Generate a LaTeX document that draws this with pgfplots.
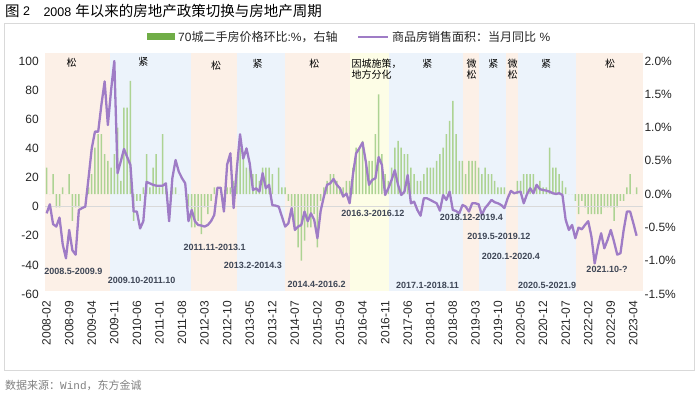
\documentclass[border=0pt]{standalone}
\usepackage{pgfplots}
\pgfplotsset{compat=1.18}
\usepackage{pgfplotstable}
\usepackage{fontspec}
\setmainfont{Liberation Sans}
\newfontfamily\cjk{Noto Sans CJK SC}
\newfontfamily\mono{Liberation Mono}
\definecolor{peach}{HTML}{FCF0E7}
\definecolor{lblue}{HTML}{ECF3FB}
\definecolor{lyellow}{HTML}{FDFDE6}
\definecolor{barg}{HTML}{ADD393}
\definecolor{legg}{HTML}{70AD47}
\definecolor{purp}{HTML}{9F7CC6}
\definecolor{lblt}{HTML}{3E4656}
\definecolor{tickc}{HTML}{262626}
\definecolor{frame}{HTML}{D9D9D9}

\pgfplotstableread{
i b s
0 0.4 -4.6
1 0.0 1.6
2 0.3 -12
3 -0.2 -13.7
4 -0.2 -7.5
5 0.1 -26
6 0.0 -35.5
7 0.3 -16
8 -0.4 -30
9 -0.2 -33
10 -0.2 -2.3
11 0.0 -1
12 0.0 0
13 0.1 19.5
14 0.3 40
15 0.7 51.5
16 0.9 51.5
17 0.9 70
18 0.6 86
19 0.5 56
20 0.4 80
21 0.6 100
22 1.0 23
23 0.2 31
24 1.3 39.6
25 1.3 34
26 1.7 28.6
27 -0.4 -3.4
28 -0.1 -3.4
29 -0.1 -15
30 0.1 -10
31 0.6 17
32 0.1 16
33 0.4 15
34 0.6 14.4
35 0.1 14.4
36 0.9 14.4
37 0.1 16
38 0.0 -10
39 0.1 19.5
40 0.1 32
41 0.0 24
42 0.0 19.5
43 0.0 16
44 -0.2 -10
45 -0.5 -2.3
46 -0.5 -10
47 -0.4 -12.6
48 -0.6 -13
49 -0.2 -13.7
50 -0.3 -12.6
51 -0.1 -10
52 0.1 -5.7
53 0.0 13
54 0.0 13
55 0.0 -3.4
56 0.1 29
57 0.1 36.6
58 0.2 -1
59 0.4 26
60 0.7 49.7
61 0.6 33
62 0.4 40
63 0.4 29.7
64 0.3 11.4
65 0.3 12.6
66 0.2 10.3
67 0.4 23
68 0.4 12.6
69 0.4 15
70 0.3 1
71 0.0 0.7
72 0.4 0
73 0.1 -6.9
74 0.1 -13.7
75 -0.1 -11.4
76 -0.2 -1
77 -0.5 -16
78 -0.8 -13.7
79 -1.0 -12.6
80 -0.7 -3.4
81 -0.5 -10
82 -0.5 -4.6
83 -0.3 -9
84 -0.8 -21.7
85 -0.1 -3
86 0.1 6.9
87 0.2 15
88 0.3 16
89 0.3 19
90 0.2 15
91 0.1 12.6
92 0.1 6.9
93 0.2 9
94 0.2 2.3
95 0.4 21.7
96 0.7 36.6
97 0.7 40
98 0.8 44
99 0.5 31
100 0.5 15
101 0.5 18.3
102 0.9 19.5
103 1.5 34
104 0.6 28.6
105 0.3 8
106 0.2 12.6
107 0.4 18.3
108 0.7 25
109 0.8 15
110 0.7 8
111 0.6 10.3
112 0.6 21.7
113 0.4 2.3
114 0.3 3.4
115 0.2 -2.3
116 0.2 -6.2
117 0.3 5.7
118 0.4 5.7
119 0.4 4.6
120 0.4 3.4
121 0.5 2.3
122 0.6 -2.8
123 0.7 8
124 0.9 4.6
125 1.1 10.3
126 1.4 -2.3
127 0.9 -3
128 0.5 -4.6
129 0.5 1.1
130 0.3 0
131 0.5 -3.4
132 0.5 2.3
133 0.5 2.3
134 0.4 1.6
135 0.3 -5.7
136 0.4 -1
137 0.3 1.6
138 0.3 4.6
139 0.2 3
140 0.1 2.3
141 0.1 1.1
142 0.1 -1
143 0.0 5.7
144 0.0 10.8
145 0.0 9.2
146 0.2 9.8
147 0.2 10.3
148 0.3 2.3
149 0.3 8.5
150 0.3 12.6
151 0.3 9.2
152 0.1 15
153 0.2 12
154 0.1 11.4
155 0.1 11
156 0.7 10.3
157 0.4 9.2
158 0.4 8.7
159 0.3 9.2
160 0.2 8
161 0.1 -9
162 0.0 -16
163 0.0 -12.6
164 -0.1 -21.7
165 -0.3 -14.4
166 -0.1 -15.6
167 -0.2 -12.6
168 -0.3 -10
169 -0.3 -20.6
170 -0.3 -39
171 -0.3 -27.5
172 -0.3 -18.3
173 -0.2 -28.6
174 -0.2 -22.9
175 -0.2 -16
176 -0.4 -24
177 -0.2 -33
178 -0.1 -32
179 -0.1 -16
180 0.1 -3.4
181 0.3 -3.4
182 0.0 -11.4
183 0.1 -20
}\data

\begin{document}
\begin{tikzpicture}[x=1pt,y=-1pt]
\path[use as bounding box] (0,0) rectangle (700,395);
\draw[frame, line width=0.8pt] (4,23.5) rectangle (694,370);

% right axis: bands and bars
\begin{axis}[
  at={(45pt,-294pt)}, anchor=south west, scale only axis,
  width=597.7pt, height=233pt,
  xmin=-0.5, xmax=184.9, ymin=-1.5, ymax=2.0,
  clip=false,
  axis x line*=bottom, axis y line*=right,
  axis line style={draw=none}, major tick length=0pt,
  /pgf/number format/assume math mode=true,
  xtick={0,7,...,182},
  xticklabels={2008-02,2008-09,2009-04,2009-11,2010-06,2011-01,2011-08,2012-03,2012-10,2013-05,2013-12,2014-07,2015-02,2015-09,2016-04,2016-11,2017-06,2018-01,2018-08,2019-03,2019-10,2020-05,2020-12,2021-07,2022-02,2022-09,2023-04},
  xticklabel style={rotate=90, anchor=east, font=\fontsize{12}{12}\selectfont, text=tickc},
  xticklabel shift=3.5pt,
  ytick={-1.5,-1,-0.5,0,0.5,1,1.5,2},
  yticklabel={\pgfmathprintnumber[fixed,fixed zerofill,precision=1]{\tick}\%},
  yticklabel style={anchor=west, font=\fontsize{12}{12}\selectfont, text=tickc},
  yticklabel shift=-1.7pt,
]
\addplot[draw=none, fill=peach] coordinates {(-0.5,-1.455)(-0.5,2.12)(19.6,2.12)(19.6,-1.455)};
\addplot[draw=none, fill=lblue] coordinates {(19.6,-1.455)(19.6,2.12)(44.9,2.12)(44.9,-1.455)};
\addplot[draw=none, fill=peach] coordinates {(44.9,-1.455)(44.9,2.12)(59.2,2.12)(59.2,-1.455)};
\addplot[draw=none, fill=lblue] coordinates {(59.2,-1.455)(59.2,2.12)(73.8,2.12)(73.8,-1.455)};
\addplot[draw=none, fill=peach] coordinates {(73.8,-1.455)(73.8,2.12)(94,2.12)(94,-1.455)};
\addplot[draw=none, fill=lyellow] coordinates {(94,-1.455)(94,2.12)(106.2,2.12)(106.2,-1.455)};
\addplot[draw=none, fill=lblue] coordinates {(106.2,-1.455)(106.2,2.12)(129.2,2.12)(129.2,-1.455)};
\addplot[draw=none, fill=peach] coordinates {(129.2,-1.455)(129.2,2.12)(134.2,2.12)(134.2,-1.455)};
\addplot[draw=none, fill=lblue] coordinates {(134.2,-1.455)(134.2,2.12)(142.4,2.12)(142.4,-1.455)};
\addplot[draw=none, fill=peach] coordinates {(142.4,-1.455)(142.4,2.12)(146.3,2.12)(146.3,-1.455)};
\addplot[draw=none, fill=lblue] coordinates {(146.3,-1.455)(146.3,2.12)(164.2,2.12)(164.2,-1.455)};
\addplot[draw=none, fill=peach] coordinates {(164.2,-1.455)(164.2,2.12)(184.9,2.12)(184.9,-1.455)};
\addplot[ybar, bar width=1.5pt, fill=barg, draw=none] table[x=i,y=b] {\data};
\end{axis}

% left axis: line
\begin{axis}[
  at={(45pt,-294pt)}, anchor=south west, scale only axis,
  width=597.7pt, height=233pt,
  xmin=-0.5, xmax=184.9, ymin=-60, ymax=100,
  axis x line*=bottom, axis y line*=left,
  axis line style={draw=none}, major tick length=0pt,
  /pgf/number format/assume math mode=true,
  xtick=\empty,
  ytick={-60,-40,-20,0,20,40,60,80,100},
  yticklabel style={anchor=east, font=\fontsize{12}{12}\selectfont, text=tickc},
  yticklabel shift=2.7pt,
]
\addplot[frame, line width=0.8pt] coordinates {(-0.5,0)(184.9,0)};
\addplot[purp, line width=2.3pt, line join=round] table[x=i,y=s] {\data};
\end{axis}

% title
\node[anchor=west, inner sep=0, font=\fontsize{14.5}{15}\selectfont] at (5,11.5) {\cjk 图};
\node[anchor=west, inner sep=0, font=\fontsize{12.5}{13}\selectfont] at (23,11.5) {2};
\node[anchor=west, inner sep=0, font=\fontsize{14.5}{15}\selectfont] at (43.3,11.5) {{\fontsize{12.5}{13}\selectfont 2008} {\cjk 年以来的房地产政策切换与房地产周期}};

% legend
\fill[legg] (146.7,33.5) rectangle (175,40.5);
\node[anchor=west, inner sep=0, font=\fontsize{12}{12}\selectfont, text=tickc] at (178,37) {70{\cjk 城二手房价格环比}:\%{\cjk ，右轴}};
\draw[purp, line width=2.5pt] (358,37) -- (388,37);
\node[anchor=west, inner sep=0, font=\fontsize{12}{12}\selectfont, text=tickc] at (392,37) {{\cjk 商品房销售面积：当月同比} \%};

% period top labels
\begin{scope}[every node/.style={font=\cjk\fontsize{10}{11}\selectfont, inner sep=0, text=black}]
\node at (71.7,63) {松};
\node at (143.3,62) {紧};
\node at (216,66) {松};
\node at (257.7,64) {紧};
\node at (314.3,64) {松};
\node[anchor=west] at (351.5,64) {因城施策，};
\node[anchor=west] at (351.5,75) {地方分化};
\node at (427.3,64) {紧};
\node at (471.7,64) {微};
\node at (471.7,75) {松};
\node at (493.3,64) {紧};
\node at (512.7,64) {微};
\node at (512.7,75) {松};
\node at (546,64) {紧};
\node at (610,64) {松};
\end{scope}

% period date labels
\begin{scope}[every node/.style={font=\bfseries\fontsize{9}{10}\selectfont, inner sep=0, text=lblt}]
\node at (73.3,271) {2008.5-2009.9};
\node at (141.7,280) {2009.10-2011.10};
\node at (214.7,247) {2011.11-2013.1};
\node at (252.8,265) {2013.2-2014.3};
\node at (316.7,284) {2014.4-2016.2};
\node at (372.8,213.5) {2016.3-2016.12};
\node at (427.5,285.5) {2017.1-2018.11};
\node at (471.3,217.5) {2018.12-2019.4};
\node at (498.8,236) {2019.5-2019.12};
\node at (510.8,256) {2020.1-2020.4};
\node at (547.2,285) {2020.5-2021.9};
\node at (607,269) {2021.10-?};
\end{scope}

% source
\node[anchor=west, inner sep=0, font=\fontsize{11}{12}\selectfont, text=gray] at (5,385) {{\cjk 数据来源：}{\mono Wind}{\cjk ，东方金诚}};
\end{tikzpicture}
\end{document}
